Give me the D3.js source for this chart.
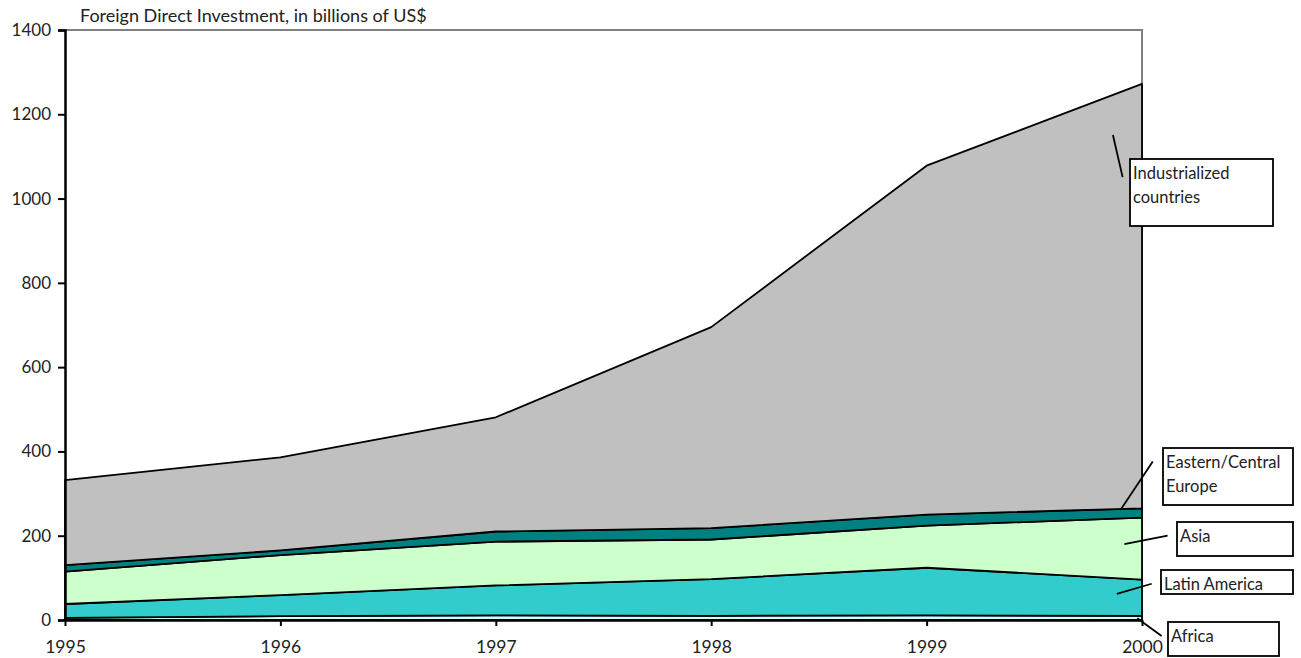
<!DOCTYPE html>
<html>
<head>
<meta charset="utf-8">
<script src="https://cdn.jsdelivr.net/npm/d3@7"></script>
<style>
  html, body { margin: 0; padding: 0; background: #fff; }
  svg { display: block; }
  text { font-family: Lato, "Open Sans", sans-serif; fill: #222; }
</style>
</head>
<body>
<svg id="chart" width="1301" height="658"></svg>
<script>
// ---- data (billions of US$) ----
const years = [1995, 1996, 1997, 1998, 1999, 2000];
const seriesNames = ["Africa", "Latin America", "Asia", "Eastern/Central Europe", "Industrialized countries"];
const africa        = [5, 9, 11, 10, 11, 10];
const latinAmerica  = [33, 50, 71, 87, 113, 86];
const asia          = [77, 95, 104, 94, 100, 147];
const easternEurope = [15, 11, 24, 27, 26, 22];
const industrialized= [202, 221, 271, 477, 828, 1007];
const yTicks = [0, 200, 400, 600, 800, 1000, 1200, 1400];
const chartTitle = "Foreign Direct Investment, in billions of US$";
const colors = ["#ccffff", "#33cccc", "#ccffcc", "#008080", "#c0c0c0"];

// label callouts: leader line anchors in data space, box in pixels
const callouts = [
  { lines: ["Industrialized", "countries"], year: 1999.91, value: 1051, year2: 1999.865, value2: 1151, box: [1130, 159, 143, 67] },
  { lines: ["Eastern/Central", "Europe"],    year: 1999.90, value: 261,  year2: 2000.05, value2: 376, box: [1163, 448, 130, 57] },
  { lines: ["Asia"],                        year: 1999.918, value: 180, year2: 2000.119, value2: 200, box: [1177, 522, 116, 34] },
  { lines: ["Latin America"],               year: 1999.883, value: 62,  year2: 2000.045, value2: 86, box: [1161, 570, 132, 24] },
  { lines: ["Africa"],                      year: 1999.978, value: 4,   year2: 2000.091, value2: -38, box: [1168, 622, 111, 34] }
];

(function () {
const svg = d3.select("#chart");
const mLeft = 65, mRight = 1142, mTop = 30, mBottom = 620;

const x = d3.scaleLinear().domain([1995, 2000]).range([mLeft, mRight]);
const y = d3.scaleLinear().domain([0, 1400]).range([mBottom, mTop]);

const table = years.map((yr, i) => ({
  year: yr,
  "Africa": africa[i],
  "Latin America": latinAmerica[i],
  "Asia": asia[i],
  "Eastern/Central Europe": easternEurope[i],
  "Industrialized countries": industrialized[i]
}));
const stacked = d3.stack().keys(seriesNames)(table);

// plot border (gray, top and right)
svg.append("path")
  .attr("d", `M${mLeft},${mTop}H${mRight}V${mBottom}`)
  .attr("fill", "none").attr("stroke", "#808080").attr("stroke-width", 2);

const area = d3.area()
  .x(d => x(d.data.year))
  .y0(d => y(d[0]))
  .y1(d => y(d[1]));

svg.append("g").selectAll("path")
  .data(stacked)
  .join("path")
  .attr("d", area)
  .attr("fill", (d, i) => colors[i])
  .attr("stroke", "#000")
  .attr("stroke-width", 1.8)
  .attr("stroke-linejoin", "round");

// y axis
const yAxis = svg.append("g").attr("transform", `translate(${mLeft},0)`)
  .call(d3.axisLeft(y).tickValues(yTicks).tickSize(7).tickPadding(7).tickFormat(d3.format("d")));
yAxis.select(".domain").attr("stroke", "#000").attr("stroke-width", 2.5);
yAxis.selectAll(".tick line").attr("stroke", "#000").attr("stroke-width", 2);
yAxis.selectAll("text").style("font-size", "17px").attr("fill", "#222");

// x axis
const xAxis = svg.append("g").attr("transform", `translate(0,${mBottom})`)
  .call(d3.axisBottom(x).tickValues(years).tickSize(6).tickSizeOuter(0).tickPadding(15).tickFormat(d3.format("d")));
xAxis.select(".domain").attr("stroke", "#000").attr("stroke-width", 2.5);
xAxis.selectAll(".tick line").attr("stroke", "#000").attr("stroke-width", 2);
xAxis.selectAll("text").style("font-size", "17.5px").attr("fill", "#222");

// title
svg.append("text").attr("x", 80).attr("y", 22).style("font-size", "18px").attr("fill", "#333").text(chartTitle);

// callouts
const cg = svg.append("g");
callouts.forEach(c => {
  cg.append("line")
    .attr("x1", x(c.year)).attr("y1", y(c.value))
    .attr("x2", x(c.year2)).attr("y2", y(c.value2))
    .attr("stroke", "#000").attr("stroke-width", 1.8);
  cg.append("rect")
    .attr("x", c.box[0]).attr("y", c.box[1]).attr("width", c.box[2]).attr("height", c.box[3])
    .attr("fill", "#fff").attr("stroke", "#000").attr("stroke-width", 1.8);
  c.lines.forEach((ln, j) => {
    cg.append("text")
      .attr("x", c.box[0] + 3).attr("y", c.box[1] + 20 + j * 24)
      .style("font-size", "16.5px").attr("fill", "#222").text(ln);
  });
});
})();
</script>
</body>
</html>
